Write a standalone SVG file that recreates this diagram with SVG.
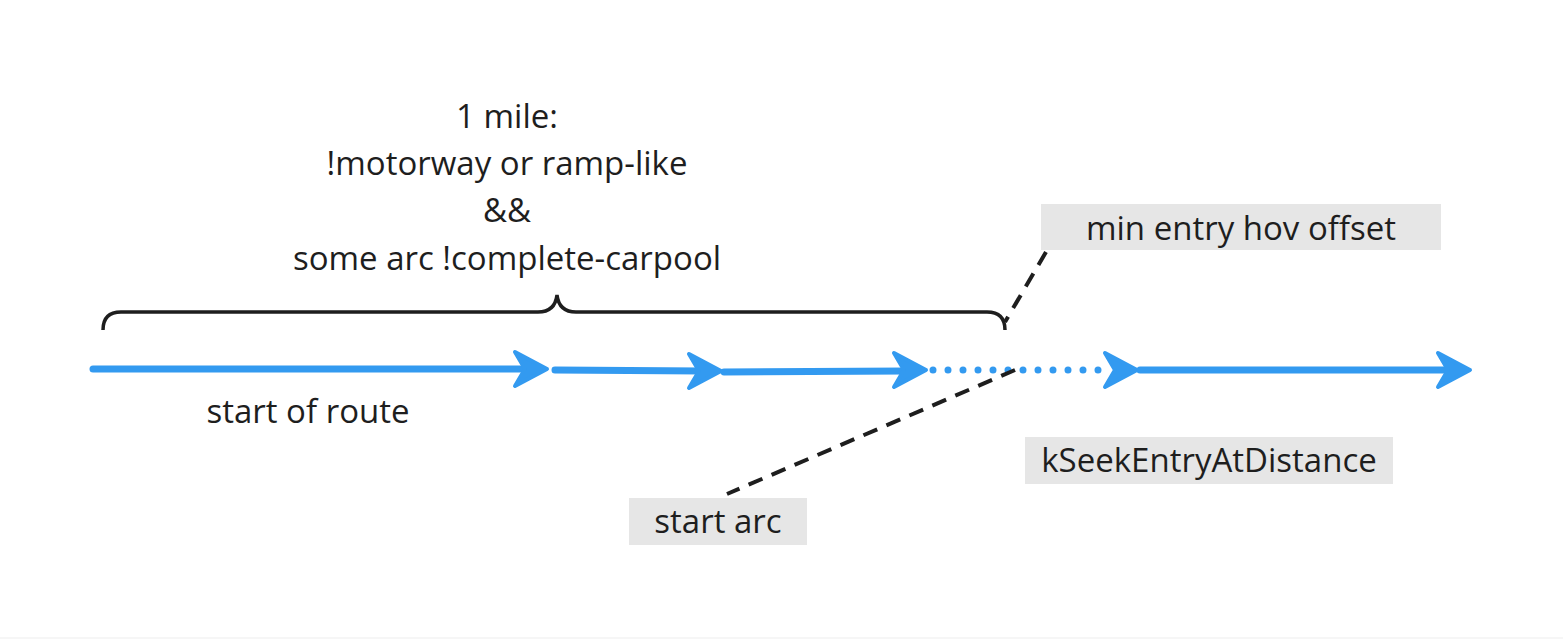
<svg xmlns="http://www.w3.org/2000/svg" width="1563" height="639" viewBox="0 0 1563 639">
<style>
.t{font-family:"Open Sans","Noto Sans",sans-serif;font-size:33px;fill:#1e1e1e;text-anchor:middle}
.ln{stroke:#339af0;stroke-width:7;stroke-linecap:round;fill:none}
.hd{fill:#339af0;stroke:#339af0;stroke-width:4;stroke-linejoin:round}
.dot{stroke:#339af0;stroke-width:7;stroke-linecap:round;stroke-dasharray:0 15;fill:none}
.dash{stroke:#1e1e1e;stroke-width:4;stroke-dasharray:15 10;fill:none}
.box{fill:#e6e6e6}
</style>
<defs>
<path id="head" d="M0 0 L-32 -17 L-22 0 L-32 17 Z"/>
</defs>
<rect width="1563" height="639" fill="#ffffff"/>
<rect y="637" width="1563" height="2" fill="#f6f6f6"/>
<g id="title">
<text class="t" x="507" y="128">1 mile:</text>
<text class="t" x="507" y="175">!motorway or ramp-like</text>
<text class="t" x="507" y="222">&amp;&amp;</text>
<text class="t" x="507" y="270">some arc !complete-carpool</text>
</g>
<g id="brace">
<path d="M103 330 Q103 312 121 312 L538 312 Q555 312 557 295 Q559 312 576 312 L987 312 Q1005 312 1005 330" fill="none" stroke="#1e1e1e" stroke-width="3.5"/>
</g>
<g id="connectors">
<line class="ln" x1="93" y1="369" x2="528" y2="369"/>
<use href="#head" class="hd" transform="translate(547 369)"/>
<line class="ln" x1="555" y1="370" x2="702" y2="371"/>
<use href="#head" class="hd" transform="translate(721 371)"/>
<line class="ln" x1="724" y1="372" x2="906" y2="371"/>
<use href="#head" class="hd" transform="translate(926 370)"/>
<line class="dot" x1="933" y1="370" x2="1100" y2="370"/>
<use href="#head" class="hd" transform="translate(1137 370)"/>
<line class="ln" x1="1140" y1="370" x2="1450" y2="370"/>
<use href="#head" class="hd" transform="translate(1470 370)"/>
<line class="dash" x1="1046" y1="252" x2="1005" y2="322"/>
<line class="dash" x1="1015" y1="370" x2="727" y2="494"/>
</g>
<g id="start-of-route">
<text class="t" x="308" y="423">start of route</text>
</g>
<g id="min-entry">
<rect class="box" x="1041" y="204" width="400" height="46"/>
<text class="t" x="1241" y="240">min entry hov offset</text>
</g>
<g id="kseek">
<rect class="box" x="1025" y="437" width="368" height="47"/>
<text class="t" x="1209" y="472">kSeekEntryAtDistance</text>
</g>
<g id="start-arc">
<rect class="box" x="629" y="498" width="178" height="47"/>
<text class="t" x="718" y="533">start arc</text>
</g>
</svg>
